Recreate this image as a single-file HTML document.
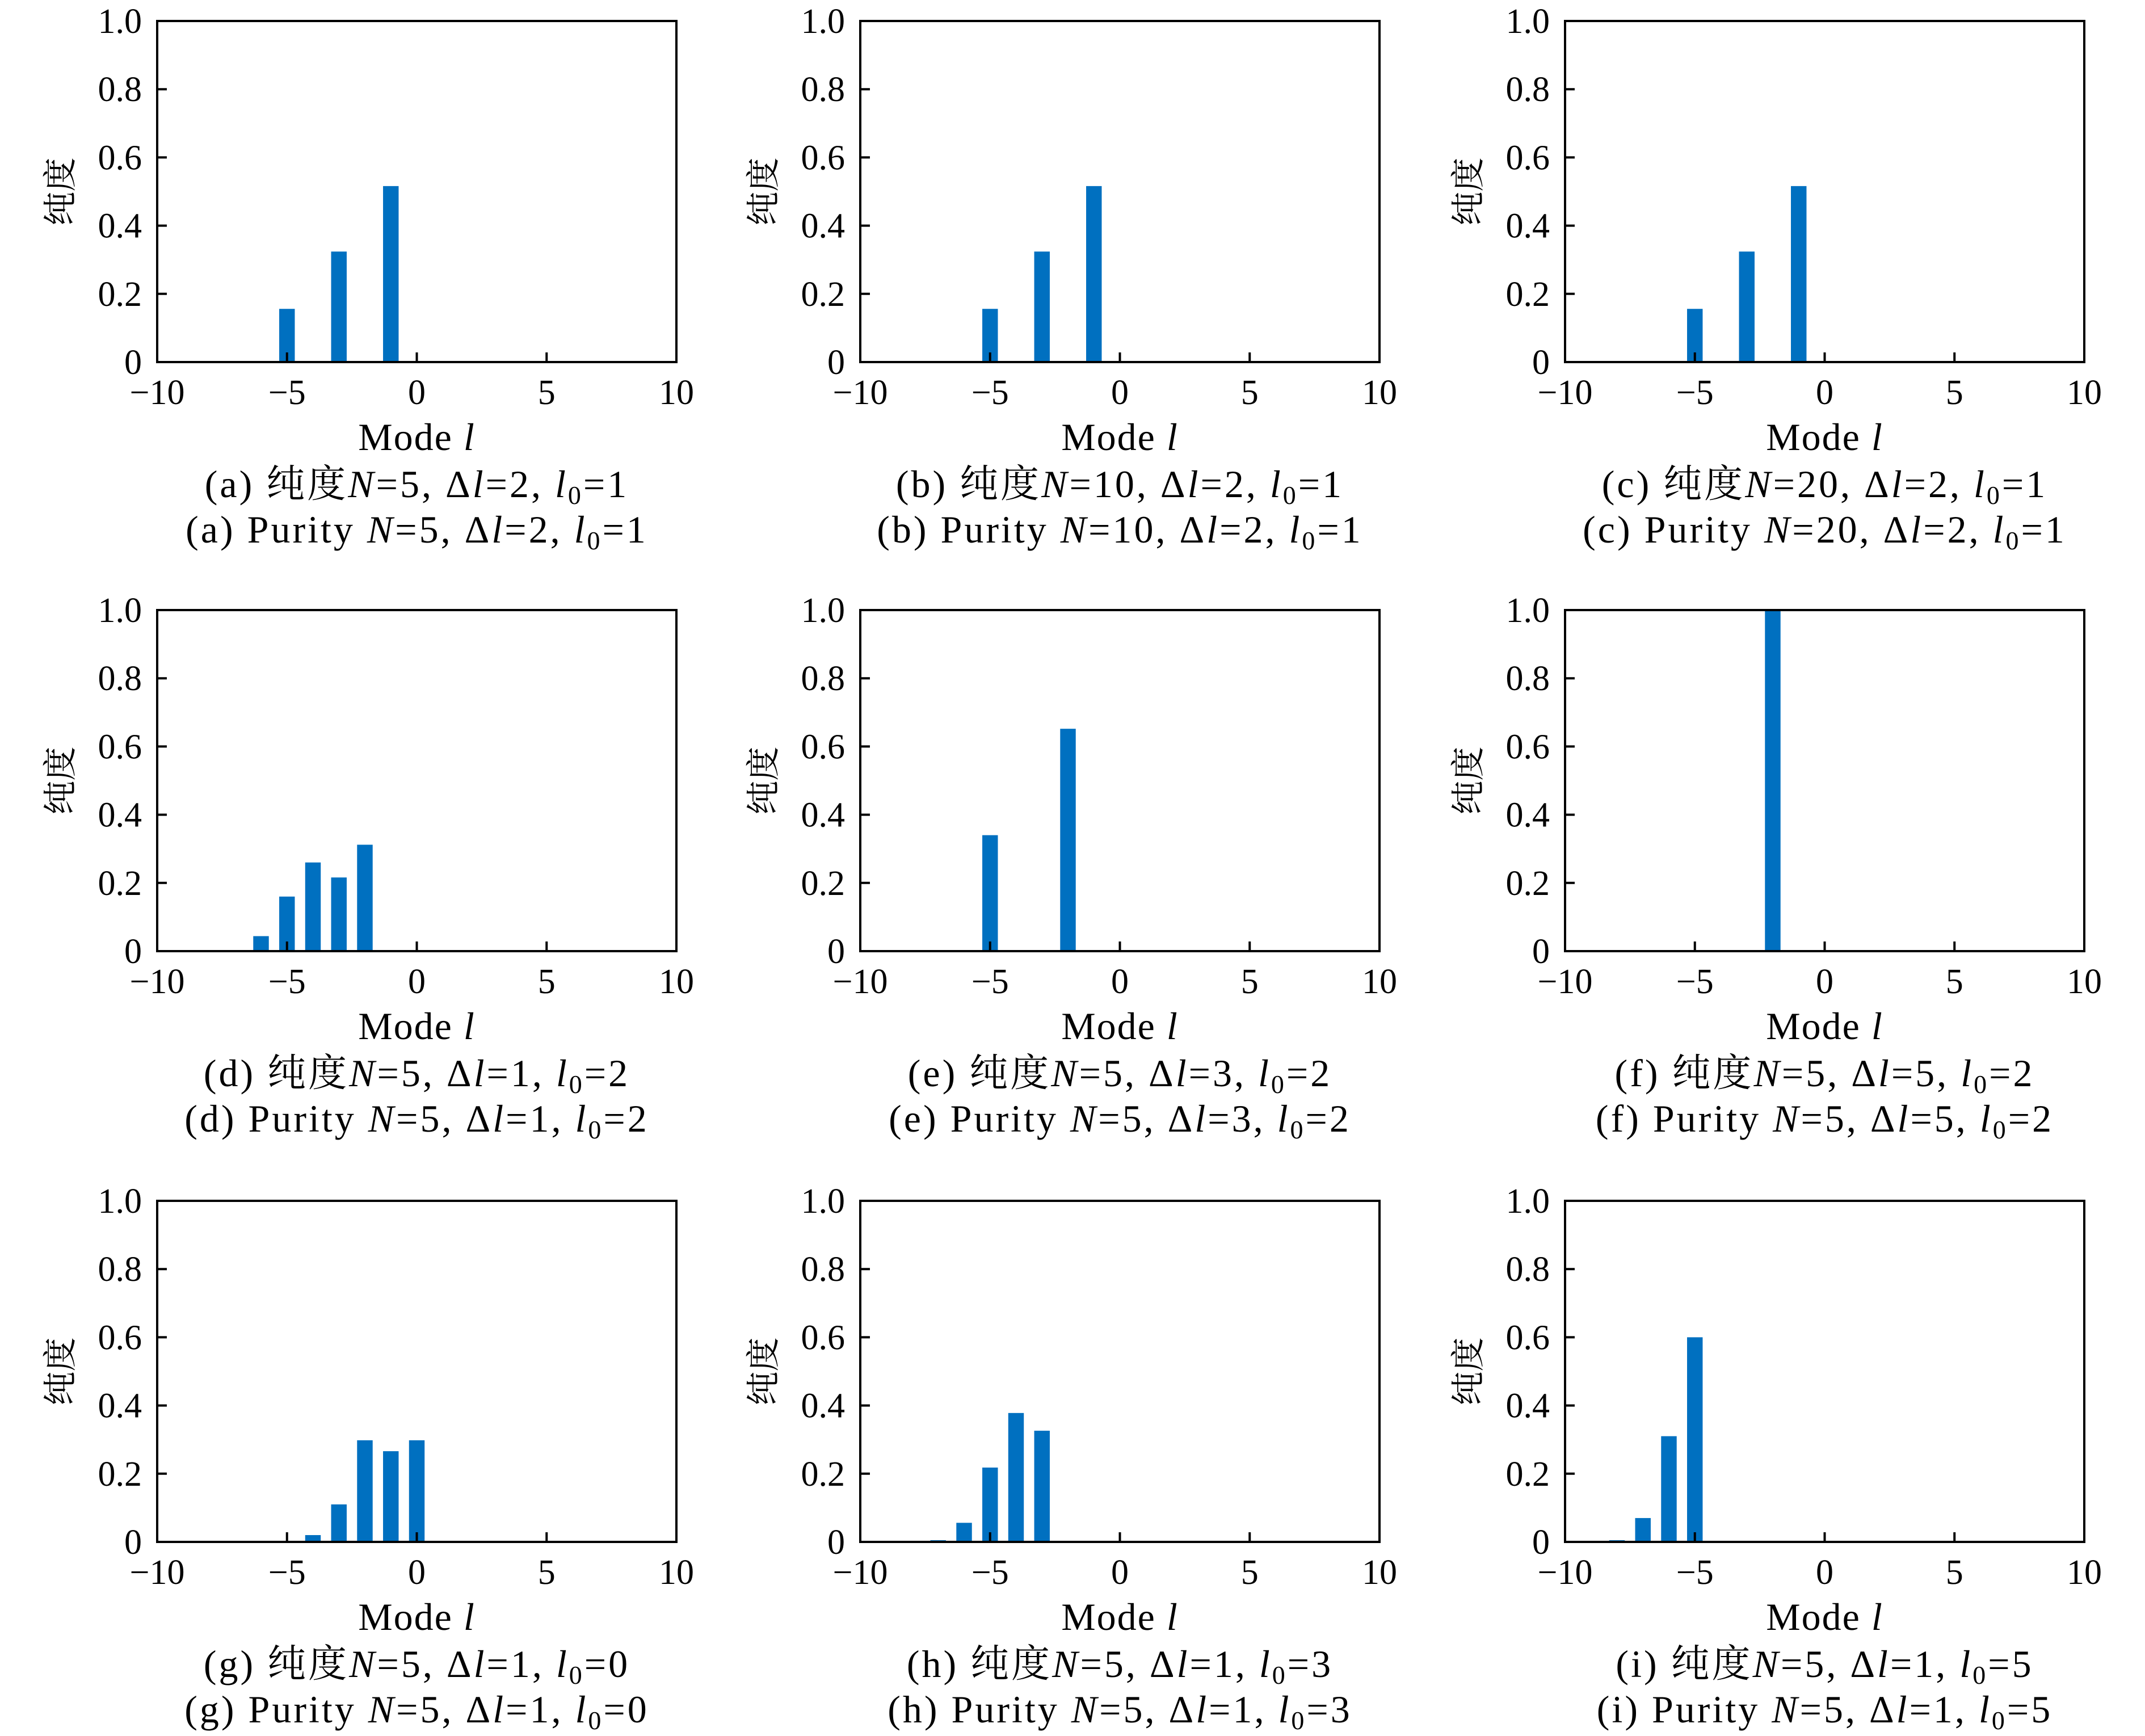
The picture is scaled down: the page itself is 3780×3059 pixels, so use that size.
<!DOCTYPE html>
<html><head><meta charset="utf-8"><style>
html,body{margin:0;padding:0;background:#fff;}
svg{display:block;}
text{font-family:"Liberation Serif","Noto Serif CJK SC",serif;fill:#000;}
</style></head><body>
<svg id="fig" width="3780" height="3059" viewBox="0 0 3780 3059" xmlns="http://www.w3.org/2000/svg"></svg>
<script>
const panelLetters = ['a','b','c','d','e','f','g','h','i'];
const panelN = [5,10,20,5,5,5,5,5,5];
const panelDl = [2,2,2,1,3,5,1,1,1];
const panelL0 = [1,1,1,2,2,2,0,3,5];
const modesA = [-5,-3,-1];            const valsA = [0.156,0.324,0.516];
const modesB = [-5,-3,-1];            const valsB = [0.156,0.324,0.516];
const modesC = [-5,-3,-1];            const valsC = [0.156,0.324,0.516];
const modesD = [-6,-5,-4,-3,-2];      const valsD = [0.044,0.16,0.26,0.216,0.312];
const modesE = [-5,-2];               const valsE = [0.34,0.652];
const modesF = [-2];                  const valsF = [1.0];
const modesG = [-4,-3,-2,-1,0];       const valsG = [0.02,0.11,0.298,0.266,0.298];
const modesH = [-7,-6,-5,-4,-3];      const valsH = [0.005,0.056,0.218,0.378,0.326];
const modesI = [-8,-7,-6,-5];         const valsI = [0.005,0.07,0.31,0.6];
const xTicks = [-10,-5,0,5,10];
const xTickLabels = ['\u221210','\u22125','0','5','10'];
const yTicks = [0,0.2,0.4,0.6,0.8,1.0];
const yTickLabels = ['0','0.2','0.4','0.6','0.8','1.0'];
const allModes = [modesA,modesB,modesC,modesD,modesE,modesF,modesG,modesH,modesI];
const allVals = [valsA,valsB,valsC,valsD,valsE,valsF,valsG,valsH,valsI];

const NS='http://www.w3.org/2000/svg';
const svg=document.getElementById('fig');
const colX=[277,1516,2758], rowY=[37,1075,2116], W=915, H=601;
function mk(tag,attrs,parent){const e=document.createElementNS(NS,tag);for(const k in attrs)e.setAttribute(k,attrs[k]);(parent||svg).appendChild(e);return e;}
function tsp(parent,txt,style){const t=document.createElementNS(NS,'tspan');if(style){for(const k in style)t.setAttribute(k,style[k]);}t.textContent=txt;parent.appendChild(t);return t;}

for(let p=0;p<9;p++){
  const L=colX[p%3], T=rowY[Math.floor(p/3)];
  const xs=v=>L+(v+10)/20*W;
  const ys=v=>T+H-v*H;
  const g=mk('g',{});
  
  
  const bw=0.6/20*W;
  allModes[p].forEach((m,i)=>{
    const r=mk('rect',{x:xs(m)-bw/2,y:ys(allVals[p][i]),width:bw,height:allVals[p][i]*H,fill:'#0070c0'},g);
    
    
  });
  const f=mk('rect',{x:L,y:T,width:W,height:H,fill:'none',stroke:'#000','stroke-width':4},g);
  
  
  xTicks.forEach((v,i)=>{
    mk('line',{x1:xs(v),x2:xs(v),y1:T+H,y2:T+H-17,stroke:'#000','stroke-width':4},g);
    const t=mk('text',{x:xs(v),y:T+H+74,'font-size':62,'text-anchor':'middle'},g);
    t.textContent=xTickLabels[i];
    
    
  });
  yTicks.forEach((v,i)=>{
    mk('line',{x1:L,x2:L+17,y1:ys(v),y2:ys(v),stroke:'#000','stroke-width':4},g);
    const t=mk('text',{x:L-27,y:ys(v)+21,'font-size':62,'text-anchor':'end'},g);
    t.textContent=yTickLabels[i];
    
    
  });
  const cx=L+W/2;
  const yl=mk('text',{x:0,y:0,'font-size':60,'text-anchor':'middle',transform:`translate(${L-150},${T+H/2}) rotate(-90)`},g);
  yl.textContent='纯度';
  
  
  const xl=mk('text',{x:cx,y:T+H+155,'font-size':68,'text-anchor':'middle','letter-spacing':2},g);
  tsp(xl,'Mode ');tsp(xl,'l',{'font-style':'italic'});
  
  
  const caps=[['('+panelLetters[p]+') 纯度',238],['('+panelLetters[p]+') Purity ',318]];
  caps.forEach((c,ci)=>{
    const t=mk('text',{x:cx,y:T+H+c[1],'font-size':68,'text-anchor':'middle','letter-spacing':4},g);
    tsp(t,c[0]);tsp(t,'N',{'font-style':'italic'});tsp(t,'='+panelN[p]+', Δ');
    tsp(t,'l',{'font-style':'italic'});tsp(t,'='+panelDl[p]+', ');
    tsp(t,'l',{'font-style':'italic'});tsp(t,'0',{'font-size':46,dy:12});
    tsp(t,'='+panelL0[p],{dy:-12});
    
    
  });
}
</script>
</body></html>
